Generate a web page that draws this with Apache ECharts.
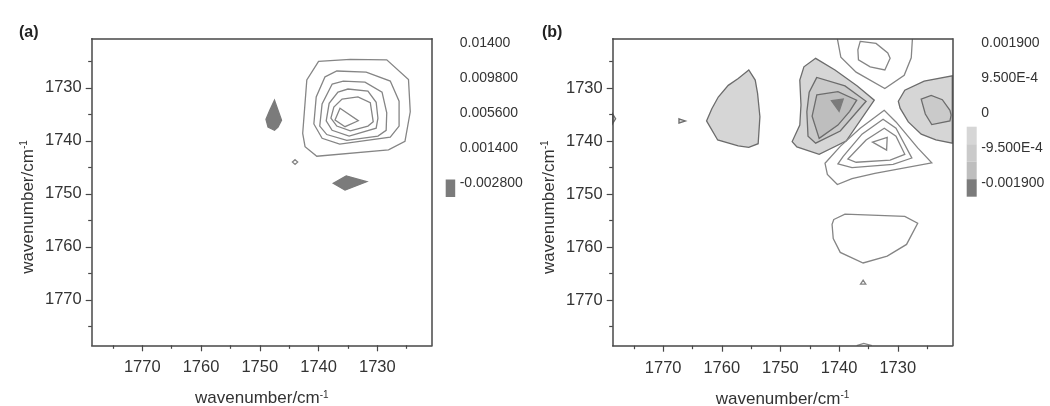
<!DOCTYPE html>
<html>
<head>
<meta charset="utf-8">
<script src="https://cdn.jsdelivr.net/npm/echarts@6/dist/echarts.min.js"></script>
<style>
html, body { margin: 0; padding: 0; background: #fff; }
#chart { width: 1050px; height: 406px; }
</style>
</head>
<body>
<div id="chart"></div>
<script>
// axis ticks (wavenumber, cm-1)
var majorTicks = [1730, 1740, 1750, 1760, 1770];
var minorTicks = [1725, 1735, 1745, 1755, 1765, 1775];

// (a) synchronous map, contour vertices [x, y]
var aRing1 = [[1740.0,1725.0],[1734.6,1724.6],[1728.4,1724.7],[1724.7,1728.4],[1724.4,1734.5],[1725.3,1740.1],[1728.1,1741.7],[1740.3,1742.9],[1742.3,1741.1],[1742.7,1738.6],[1742.0,1728.5]];
var aRing2 = [[1738.9,1727.9],[1736.9,1726.8],[1731.9,1727.0],[1727.8,1728.7],[1726.3,1732.5],[1726.3,1737.2],[1727.8,1739.3],[1736.4,1740.6],[1739.4,1739.5],[1740.8,1736.8],[1740.4,1731.7]];
var aRing3 = [[1737.7,1729.3],[1735.8,1728.7],[1732.1,1728.9],[1729.2,1730.8],[1728.4,1734.7],[1728.5,1738.0],[1729.9,1739.1],[1735.2,1739.9],[1738.6,1738.8],[1739.8,1737.2],[1739.4,1733.0]];
var aRing4 = [[1736.7,1730.8],[1735.0,1730.2],[1731.6,1730.6],[1730.2,1732.7],[1729.9,1735.7],[1730.2,1737.6],[1734.8,1739.1],[1737.7,1738.0],[1738.7,1736.2],[1738.2,1732.9]];
var aRing5 = [[1736.0,1732.1],[1733.3,1731.7],[1731.2,1732.8],[1730.7,1736.4],[1731.6,1737.2],[1734.6,1738.1],[1736.9,1737.2],[1737.9,1735.7],[1737.4,1733.6]];
var aPeak = [[1736.35,1733.84],[1733.24,1736.19],[1735.5,1737.32],[1737.2,1736.05]];
var aNegV = [[1747.5,1732.3],[1746.9,1734.2],[1746.3,1736.1],[1746.9,1737.4],[1747.5,1738.0],[1748.6,1737.4],[1748.95,1735.9],[1748.3,1734.2]];
var aNegH = [[1737.5,1748.0],[1735.3,1746.6],[1731.8,1747.7],[1735.5,1749.3]];
var aDot = [[1744.0,1743.55],[1743.55,1744.0],[1744.0,1744.45],[1744.45,1744.0]];

// (b) asynchronous map, contour vertices [x, y]
var bTopOuter = [[1740.3,1720.7],[1739.7,1724.2],[1737.1,1727.0],[1732.2,1730.1],[1728.9,1727.6],[1727.7,1724.3],[1727.5,1720.7]];
var bTopInner = [[1736.4,1721.2],[1733.7,1721.6],[1731.7,1723.4],[1731.3,1724.4],[1732.2,1726.6],[1734.7,1726.0],[1736.7,1724.7],[1736.8,1722.8]];
var bLeftBlob = [[1755.4,1726.6],[1757.2,1728.2],[1758.9,1729.5],[1760.6,1731.7],[1761.7,1733.9],[1762.6,1736.2],[1760.7,1739.8],[1757.2,1740.9],[1755.4,1741.2],[1753.8,1740.5],[1753.5,1735.4],[1753.9,1731.0],[1754.3,1728.5]];
var bMid1 = [[1744.0,1724.4],[1746.0,1726.0],[1746.7,1728.5],[1746.5,1733.2],[1746.7,1737.0],[1748.0,1740.1],[1747.2,1741.1],[1743.4,1742.5],[1738.8,1740.0],[1734.0,1732.3],[1736.9,1729.6],[1740.7,1726.6]];
var bMid2 = [[1743.8,1728.0],[1745.1,1730.8],[1745.5,1734.5],[1745.3,1739.1],[1744.0,1740.4],[1739.8,1738.1],[1735.4,1732.5],[1739.0,1729.6]];
var bMid3 = [[1743.8,1731.3],[1740.2,1730.7],[1737.0,1732.3],[1738.2,1734.4],[1740.2,1737.0],[1743.4,1739.5],[1744.6,1735.3]];
var bMid4 = [[1741.3,1732.4],[1739.3,1732.1],[1740.0,1734.4]];
var bRight1 = [[1729.9,1732.5],[1728.8,1730.4],[1725.5,1728.7],[1720.7,1727.7],[1720.7,1740.4],[1723.5,1739.8],[1726.0,1738.7],[1728.2,1736.4],[1729.6,1733.8]];
var bRight2 = [[1726.0,1732.1],[1724.3,1731.4],[1722.4,1732.2],[1721.1,1734.2],[1720.9,1735.1],[1721.1,1736.2],[1724.2,1736.9],[1725.3,1734.9]];
var bLow1 = [[1732.3,1734.2],[1736.4,1737.6],[1739.8,1741.0],[1742.4,1744.2],[1742.0,1746.3],[1740.3,1748.2],[1737.8,1747.1],[1733.9,1746.1],[1724.2,1744.1],[1726.6,1741.3],[1730.3,1736.4]];
var bLow2 = [[1732.5,1735.9],[1736.1,1738.7],[1739.3,1742.9],[1740.2,1744.3],[1737.8,1745.0],[1730.8,1744.4],[1727.6,1743.2],[1730.3,1737.6]];
var bLow3 = [[1732.3,1737.6],[1735.4,1739.8],[1738.5,1743.4],[1737.1,1744.0],[1731.3,1743.6],[1728.8,1742.5],[1730.3,1739.1]];
var bLow4 = [[1734.3,1740.2],[1731.8,1739.3],[1731.9,1741.7]];
var bBottom = [[1740.9,1754.8],[1739.0,1753.8],[1728.8,1754.2],[1726.6,1755.5],[1728.5,1759.5],[1731.8,1761.7],[1735.9,1763.0],[1739.8,1761.0],[1741.0,1758.4],[1741.2,1755.7]];
var bTinyLow = [[1735.9,1766.25],[1736.35,1767.0],[1735.45,1767.0]];
var bTinyLeft = [[1767.3,1735.8],[1766.2,1736.2],[1767.3,1736.6]];
var bEdgeLeft = [[1778.6,1734.9],[1778.1,1735.8],[1778.6,1736.7]];
var bEdgeBottom = [[1737.0,1778.6],[1735.8,1778.15],[1734.4,1778.6]];

// colour scales
var cbLevelsA = [0.014, 0.0098, 0.0056, 0.0014, -0.0028];
var cbLabelsA = ['0.01400', '0.009800', '0.005600', '0.001400', '-0.002800'];
var cbBandsA = [[-0.0028, -0.0049]];
var cbLevelsB = [0.0019, 0.00095, 0, -0.00095, -0.0019];
var cbLabelsB = ['0.001900', '9.500E-4', '0', '-9.500E-4', '-0.001900'];
var cbBandsB = [[-0.000475, -0.00095], [-0.00095, -0.001425], [-0.001425, -0.0019], [-0.0019, -0.002375]];

var FONT = '"Liberation Sans", Arial, sans-serif';
var AXC = '#474747';
var LINE = '#858585';
var LINE2 = '#6c6c6c';
var FILLS = ['#d6d6d6', '#cacaca', '#bebebe', '#7b7b7b'];
var axisMin = 1720.7, axisMax = 1778.6;

var layersA = [
  { pts: aNegV, fill: '#7b7b7b', stroke: '#7b7b7b' },
  { pts: aNegH, fill: '#7b7b7b', stroke: '#7b7b7b' },
  { pts: aDot, stroke: LINE },
  { pts: aRing1, stroke: LINE },
  { pts: aRing2, stroke: LINE },
  { pts: aRing3, stroke: LINE },
  { pts: aRing4, stroke: LINE },
  { pts: aRing5, stroke: LINE },
  { pts: aPeak, stroke: LINE }
];
var layersB = [
  { pts: bLeftBlob, fill: FILLS[0], stroke: LINE2 },
  { pts: bMid1, fill: FILLS[0], stroke: LINE2 },
  { pts: bMid2, fill: FILLS[1], stroke: LINE2 },
  { pts: bMid3, fill: FILLS[2], stroke: LINE2 },
  { pts: bMid4, fill: FILLS[3], stroke: FILLS[3] },
  { pts: bRight1, fill: FILLS[0], stroke: LINE2 },
  { pts: bRight2, fill: FILLS[1], stroke: LINE2 },
  { pts: bTinyLeft, fill: FILLS[0], stroke: LINE2 },
  { pts: bEdgeLeft, fill: FILLS[0], stroke: LINE2 },
  { pts: bTopOuter, stroke: LINE, open: true },
  { pts: bTopInner, stroke: LINE },
  { pts: bLow1, stroke: LINE },
  { pts: bLow2, stroke: LINE },
  { pts: bLow3, stroke: LINE },
  { pts: bLow4, stroke: LINE },
  { pts: bBottom, stroke: LINE },
  { pts: bTinyLow, stroke: LINE },
  { pts: bEdgeBottom, stroke: LINE, open: true }
];

var titleName = '{t|wavenumber/cm}{s|-1}';
var titleRich = {
  t: { fontSize: 17, fontFamily: FONT, color: '#333' },
  s: { fontSize: 10, fontFamily: FONT, color: '#333', verticalAlign: 'top' }
};
function plainNum(v) { return String(v); }

function mainX(g) {
  return {
    type: 'value', gridIndex: g, position: 'bottom', inverse: true, min: axisMin, max: axisMax, z: 10,
    axisLine: { show: true, onZero: false, lineStyle: { color: AXC, width: 1.5 } },
    axisTick: { show: true, customValues: majorTicks, length: 6, lineStyle: { color: AXC, width: 1.2 } },
    axisLabel: { show: true, customValues: majorTicks, formatter: plainNum, margin: 14, color: '#333', fontSize: 16.5, fontFamily: FONT },
    splitLine: { show: false },
    name: titleName, nameLocation: 'middle', nameGap: 45,
    nameTextStyle: { rich: titleRich }
  };
}
function minorX(g) {
  return {
    type: 'value', gridIndex: g, position: 'bottom', inverse: true, min: axisMin, max: axisMax, z: 10,
    axisLine: { show: false },
    axisTick: { show: true, customValues: minorTicks, length: 3.5, lineStyle: { color: AXC, width: 1.2 } },
    axisLabel: { show: false }, splitLine: { show: false }
  };
}
function topX(g) {
  return {
    type: 'value', gridIndex: g, position: 'top', inverse: true, min: axisMin, max: axisMax, z: 10,
    axisLine: { show: true, onZero: false, lineStyle: { color: AXC, width: 1.5 } },
    axisTick: { show: false }, axisLabel: { show: false }, splitLine: { show: false }
  };
}
function mainY(g) {
  return {
    type: 'value', gridIndex: g, position: 'left', inverse: true, min: axisMin, max: axisMax, z: 10,
    axisLine: { show: true, onZero: false, lineStyle: { color: AXC, width: 1.5 } },
    axisTick: { show: true, customValues: majorTicks, length: 6, lineStyle: { color: AXC, width: 1.2 } },
    axisLabel: { show: true, customValues: majorTicks, formatter: plainNum, margin: 10, color: '#333', fontSize: 16.5, fontFamily: FONT },
    splitLine: { show: false },
    name: titleName, nameLocation: 'middle', nameGap: 55,
    nameTextStyle: { rich: titleRich, padding: [0, 30, 0, 0] }
  };
}
function minorY(g) {
  return {
    type: 'value', gridIndex: g, position: 'left', inverse: true, min: axisMin, max: axisMax, z: 10,
    axisLine: { show: false },
    axisTick: { show: true, customValues: minorTicks, length: 3.5, lineStyle: { color: AXC, width: 1.2 } },
    axisLabel: { show: false }, splitLine: { show: false }
  };
}
function rightY(g) {
  return {
    type: 'value', gridIndex: g, position: 'right', inverse: true, min: axisMin, max: axisMax, z: 10,
    axisLine: { show: true, onZero: false, lineStyle: { color: AXC, width: 1.5 } },
    axisTick: { show: false }, axisLabel: { show: false }, splitLine: { show: false }
  };
}
function cbY(g, levels, labels, min, max) {
  return {
    type: 'value', gridIndex: g, position: 'right', min: min, max: max,
    axisLine: { show: false }, axisTick: { show: false }, splitLine: { show: false },
    axisLabel: {
      customValues: levels, margin: 4.5, color: '#333', fontSize: 14, fontFamily: FONT,
      verticalAlign: 'top', lineHeight: 8,
      formatter: function (v) {
        for (var i = 0; i < levels.length; i++) {
          if (Math.abs(levels[i] - v) < 1e-9) return labels[i];
        }
        return '';
      }
    }
  };
}

function contourSeries(layers, xi, yi) {
  return {
    type: 'custom', xAxisIndex: xi, yAxisIndex: yi, clip: true, silent: true, z: 2,
    data: layers.map(function (l, i) { return [l.pts[0][0], l.pts[0][1], i]; }),
    renderItem: function (params, api) {
      var l = layers[params.dataIndex];
      var pts = l.pts.map(function (p) { return api.coord(p); });
      return {
        type: l.open ? 'polyline' : 'polygon',
        shape: { points: pts },
        style: { fill: l.fill || null, stroke: l.stroke, lineWidth: 1.3 }
      };
    }
  };
}
function colorbarSeries(bands, colors, xi, yi) {
  return {
    type: 'custom', xAxisIndex: xi, yAxisIndex: yi, silent: true,
    data: bands.map(function (b) { return [0.5, b[0], b[1]]; }),
    renderItem: function (params, api) {
      var p1 = api.coord([0, api.value(1)]);
      var p2 = api.coord([1, api.value(2)]);
      return {
        type: 'rect',
        shape: { x: p1[0], y: p1[1], width: p2[0] - p1[0], height: p2[1] - p1[1] },
        style: { fill: colors[params.dataIndex] }
      };
    }
  };
}

var chart = echarts.init(document.getElementById('chart'));
chart.setOption({
  backgroundColor: '#fff',
  animation: false,
  title: [
    { text: '(a)', left: 14, top: 20, textStyle: { fontSize: 16, fontWeight: 'bold', color: '#222', fontFamily: FONT } },
    { text: '(b)', left: 537, top: 20, textStyle: { fontSize: 16, fontWeight: 'bold', color: '#222', fontFamily: FONT } }
  ],
  grid: [
    { left: 91.7, top: 38.7, width: 340.3, height: 306.6, outerBoundsMode: 'none' },
    { left: 612.7, top: 38.7, width: 339.6, height: 307, outerBoundsMode: 'none' },
    { left: 445.7, top: 39.5, width: 9.5, height: 157.5, outerBoundsMode: 'none' },
    { left: 966.7, top: 39.2, width: 10, height: 157.5, outerBoundsMode: 'none' }
  ],
  xAxis: [
    mainX(0), minorX(0), topX(0),
    mainX(1), minorX(1), topX(1),
    { type: 'value', gridIndex: 2, min: 0, max: 1, show: false },
    { type: 'value', gridIndex: 3, min: 0, max: 1, show: false }
  ],
  yAxis: [
    mainY(0), minorY(0), rightY(0),
    mainY(1), minorY(1), rightY(1),
    cbY(2, cbLevelsA, cbLabelsA, -0.0049, 0.014),
    cbY(3, cbLevelsB, cbLabelsB, -0.002375, 0.0019)
  ],
  series: [
    contourSeries(layersA, 0, 0),
    contourSeries(layersB, 3, 3),
    colorbarSeries(cbBandsA, ['#7b7b7b'], 6, 6),
    colorbarSeries(cbBandsB, FILLS, 7, 7)
  ]
});
</script>
</body>
</html>
